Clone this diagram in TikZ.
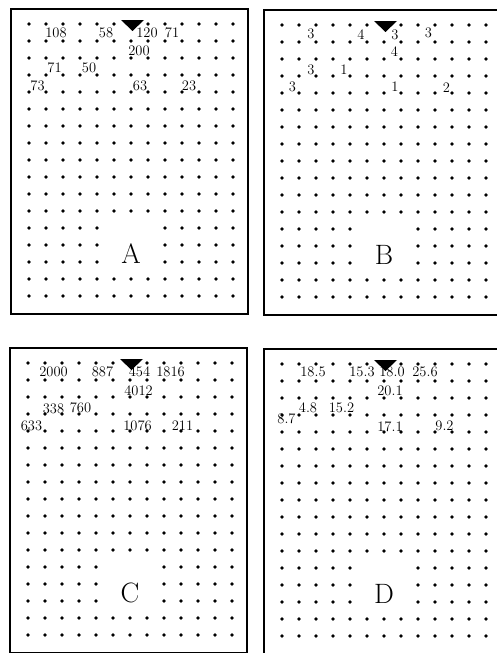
\documentclass[tikz,border=0pt]{standalone}
\usepackage{tikz}

\begin{document}
\begin{tikzpicture}[x=1pt, y=-1pt,
    panel/.style={draw, line width=1.3pt},
    gdot/.style={fill=black},
    marker/.style={fill=black},
    val/.style={inner sep=0pt, font=\fontsize{14.5}{14.5}\selectfont},
    letter/.style={inner sep=0pt, font=\fontsize{28}{28}\selectfont},
  ]
  \useasboundingbox (0,0) rectangle (496,653);

  % four panels: frame, dot grid, marker, letter
  \foreach \px/\py/\name in {11/9/A, 264/10/B, 10/348/C, 264/349/D} {
    \begin{scope}[shift={(\px,\py)}]
      \draw[panel] (0,0) rectangle (237,305);
      \foreach \r in {0,1,2,3,4,5,6,7,8,9,10,11,15,16}
        \foreach \c in {0,...,12}
          \fill[gdot] (18+17*\c, 15+17*\r) circle (1.9pt);
      \foreach \r in {12,13,14}
        \foreach \c in {0,1,2,3,4,8,9,10,11,12}
          \fill[gdot] (18+17*\c, 15+17*\r) circle (1.9pt);
      \fill[marker] (110,11) -- (133,11) -- (121.5,22) -- cycle;
      \node[letter] (\name) at (120,245) {\name};
    \end{scope}
  }

  % values
  \foreach \x/\y/\v [count=\i] in {56/33/108, 106/33/58, 147/33/120, 172/33/71,
      139/51/200, 54.5/68/71, 89/68/50, 37.5/86/73, 140/86/63, 189/86/23}
    \node[val] (a\i) at (\x,\y) {\v};
  \foreach \x/\y/\v [count=\i] in {311/34/3, 361/35/4, 395/35/3, 428.5/33/3,
      394.5/52/4, 311/70/3, 344/70/1, 292.5/87/3, 395/87/1, 446.5/88/2}
    \node[val] (b\i) at (\x,\y) {\v};
  \foreach \x/\y/\v [count=\i] in {53.5/372/2000, 102.5/372/887, 139.5/372/454,
      170.5/372/1816, 138.5/391/4012, 53.5/408.5/338, 80.5/408/760,
      31.5/426/633, 137.5/426/1076, 182.5/426/211}
    \node[val] (c\i) at (\x,\y) {\v};
  \foreach \x/\y/\v [count=\i] in {313/372/18.5, 362/372/15.3, 392/372/18.0,
      425/372/25.6, 390/391/20.1, 308/408/4.8, 341.5/408/15.2,
      286.5/419/8.7, 390/427/17.1, 444.5/426/9.2}
    \node[val] (d\i) at (\x,\y) {\v};
\end{tikzpicture}
\end{document}
